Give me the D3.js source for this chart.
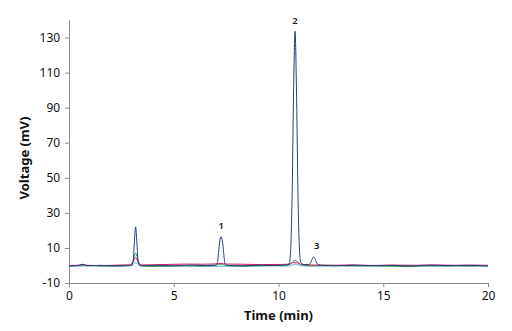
<!DOCTYPE html>
<html>
<head>
<meta charset="utf-8">
<script src="https://cdn.jsdelivr.net/npm/d3@7"></script>
<style>
  body { margin: 0; background: #fff; }
  svg text { font-family: "Noto Sans", "Liberation Sans", sans-serif; fill: #111; }
  .axis path, .axis line { stroke: #8a8a8a; }
</style>
</head>
<body>
<svg width="512" height="331"></svg>
<script>
// time points (min) and detector voltage (mV) for each trace
var blueT = [0, 0.4, 0.65, 0.9, 1.5, 2.2, 2.9, 3.0, 3.06, 3.12, 3.18, 3.24, 3.3, 3.36, 3.5, 4.2, 5.0, 5.8, 6.5, 7.0, 7.08, 7.14, 7.2, 7.26, 7.32, 7.38, 7.44, 7.55, 8.2, 9.0, 9.8, 10.4, 10.51, 10.58, 10.65, 10.72, 10.79, 10.86, 10.93, 11.0, 11.07, 11.2, 11.4, 11.52, 11.6, 11.68, 11.76, 11.84, 12.0, 12.8, 13.6, 14.5, 15.4, 16.3, 17.2, 18.1, 19.0, 20.0];
var blueV = [-0.3, -0.1, 0.6, -0.2, 0.1, -0.3, 0.0, 0.3, 2.2, 13.0, 22.0, 13.0, 2.2, 0.3, -0.2, 0.1, -0.2, 0.2, 0.0, 0.2, 1.4, 7.5, 14.0, 16.3, 14.0, 7.5, 1.4, 0.1, -0.2, 0.1, 0.0, 0.3, 1.0, 9.0, 40.0, 99.0, 133.5, 99.0, 40.0, 9.0, 1.5, 0.5, 0.4, 1.2, 3.5, 4.9, 3.5, 1.0, 0.2, -0.2, 0.2, -0.1, 0.1, -0.3, 0.2, -0.1, 0.1, -0.2];

var greenT = [0, 0.8, 1.6, 2.4, 2.95, 3.06, 3.18, 3.3, 3.42, 3.9, 4.6, 5.4, 6.2, 7.0, 7.26, 7.5, 8.4, 9.3, 10.2, 10.55, 10.68, 10.79, 10.9, 11.05, 11.5, 12.4, 13.3, 14.2, 15.1, 16.0, 17.0, 18.0, 19.0, 20.0];
var greenV = [-0.2, 0.1, -0.3, 0.0, 0.2, 3.0, 7.0, 3.0, 0.2, -0.6, -0.4, -0.1, -0.3, 0.1, 0.8, 0.0, -0.3, -0.1, 0.0, 0.6, 2.2, 3.0, 2.2, 0.5, -0.2, 0.1, -0.3, -0.1, -0.4, -0.6, -0.3, -0.1, -0.4, -0.2];

var redT = [0, 0.5, 0.65, 0.8, 1.5, 2.3, 2.95, 3.06, 3.18, 3.3, 3.42, 4.0, 4.8, 5.6, 6.4, 7.0, 7.26, 7.5, 8.3, 9.2, 10.2, 10.55, 10.68, 10.79, 10.9, 11.05, 11.5, 12.5, 13.5, 14.5, 15.5, 16.5, 17.5, 18.5, 19.5, 20.0];
var redV = [0.0, 0.1, 0.7, 0.1, -0.1, 0.2, 0.3, 2.0, 4.5, 2.0, 0.3, 0.4, 0.6, 0.8, 0.7, 0.9, 1.2, 0.8, 0.7, 0.5, 0.6, 0.9, 1.6, 1.8, 1.5, 0.8, 0.3, 0.1, 0.3, 0.0, 0.2, 0.1, 0.3, 0.1, 0.2, 0.1];

var cyanT = [0, 1.0, 2.0, 3.0, 3.18, 3.4, 4.5, 5.5, 6.5, 7.5, 8.5, 9.5, 10.5, 10.79, 11.1, 12.0, 13.0, 14.0, 15.0, 16.0, 17.0, 18.0, 19.0, 20.0];
var cyanV = [-0.4, -0.2, -0.5, -0.1, 1.5, -0.2, -0.5, -0.3, -0.6, -0.4, -0.5, -0.2, -0.3, 0.8, -0.2, -0.4, -0.1, -0.5, -0.2, -0.4, -0.3, -0.5, -0.2, -0.4];

var xTicks = [0, 5, 10, 15, 20];
var yTicks = [-10, 10, 30, 50, 70, 90, 110, 130];
var peakLabels = ["1", "2", "3"];
var peakT = [7.26, 10.79, 11.68];
var peakV = [16.3, 133.5, 4.9];

var svg = d3.select("svg");
var margin = {left: 69, right: 24, top: 20, bottom: 48};
var width = 512 - margin.left - margin.right,
    height = 331 - margin.top - margin.bottom;

var x = d3.scaleLinear().domain([0, 20]).range([0, width]);
var y = d3.scaleLinear().domain([-10, 140]).range([height, 0]);

var g = svg.append("g").attr("transform", "translate(" + margin.left + "," + margin.top + ")");

var xAxis = g.append("g")
    .attr("class", "axis")
    .attr("transform", "translate(0," + height + ")")
    .call(d3.axisBottom(x).tickValues(xTicks).tickSize(4).tickSizeOuter(0)
      .tickFormat(function(d) { return String(d); }));
xAxis.selectAll("text").attr("dy", "0.85em").style("font-size", "12px");

var yAxis = g.append("g")
    .attr("class", "axis")
    .call(d3.axisLeft(y).tickValues(yTicks).tickSize(4).tickSizeOuter(0)
      .tickFormat(function(d) { return String(d); }));
yAxis.selectAll("text").attr("dx", "-0.15em").style("font-size", "12px");

var line = d3.line()
    .x(function(d) { return x(d[0]); })
    .y(function(d) { return y(d[1]); })
    .curve(d3.curveMonotoneX);

var traces = [
  {t: cyanT, v: cyanV, color: "#5fb3d6"},
  {t: greenT, v: greenV, color: "#3a9a4c"},
  {t: redT, v: redV, color: "#d41f5c"},
  {t: blueT, v: blueV, color: "#1f3f7e"}
];

traces.forEach(function(s) {
  g.append("path")
    .datum(d3.zip(s.t, s.v))
    .attr("fill", "none")
    .attr("stroke", s.color)
    .attr("stroke-width", 1)
    .attr("d", line);
});

g.selectAll(".peak")
  .data(peakLabels)
  .enter().append("text")
    .attr("class", "peak")
    .attr("x", function(d, i) { return x(peakT[i]) + (i == 2 ? 3 : 0); })
    .attr("y", function(d, i) { return y(peakV[i]) - (i == 1 ? 7 : 8); })
    .attr("text-anchor", "middle")
    .style("font-size", "9.5px")
    .style("font-weight", "600")
    .text(function(d) { return d; });

svg.append("text")
  .attr("x", margin.left + width / 2)
  .attr("y", 320)
  .attr("text-anchor", "middle")
  .style("font-size", "13px")
  .style("font-weight", "bold")
  .text("Time (min)");

svg.append("text")
  .attr("transform", "translate(29," + (margin.top + 138) + ") rotate(-90)")
  .attr("text-anchor", "middle")
  .style("font-size", "13px")
  .style("font-weight", "bold")
  .text("Voltage (mV)");
</script>
</body>
</html>
